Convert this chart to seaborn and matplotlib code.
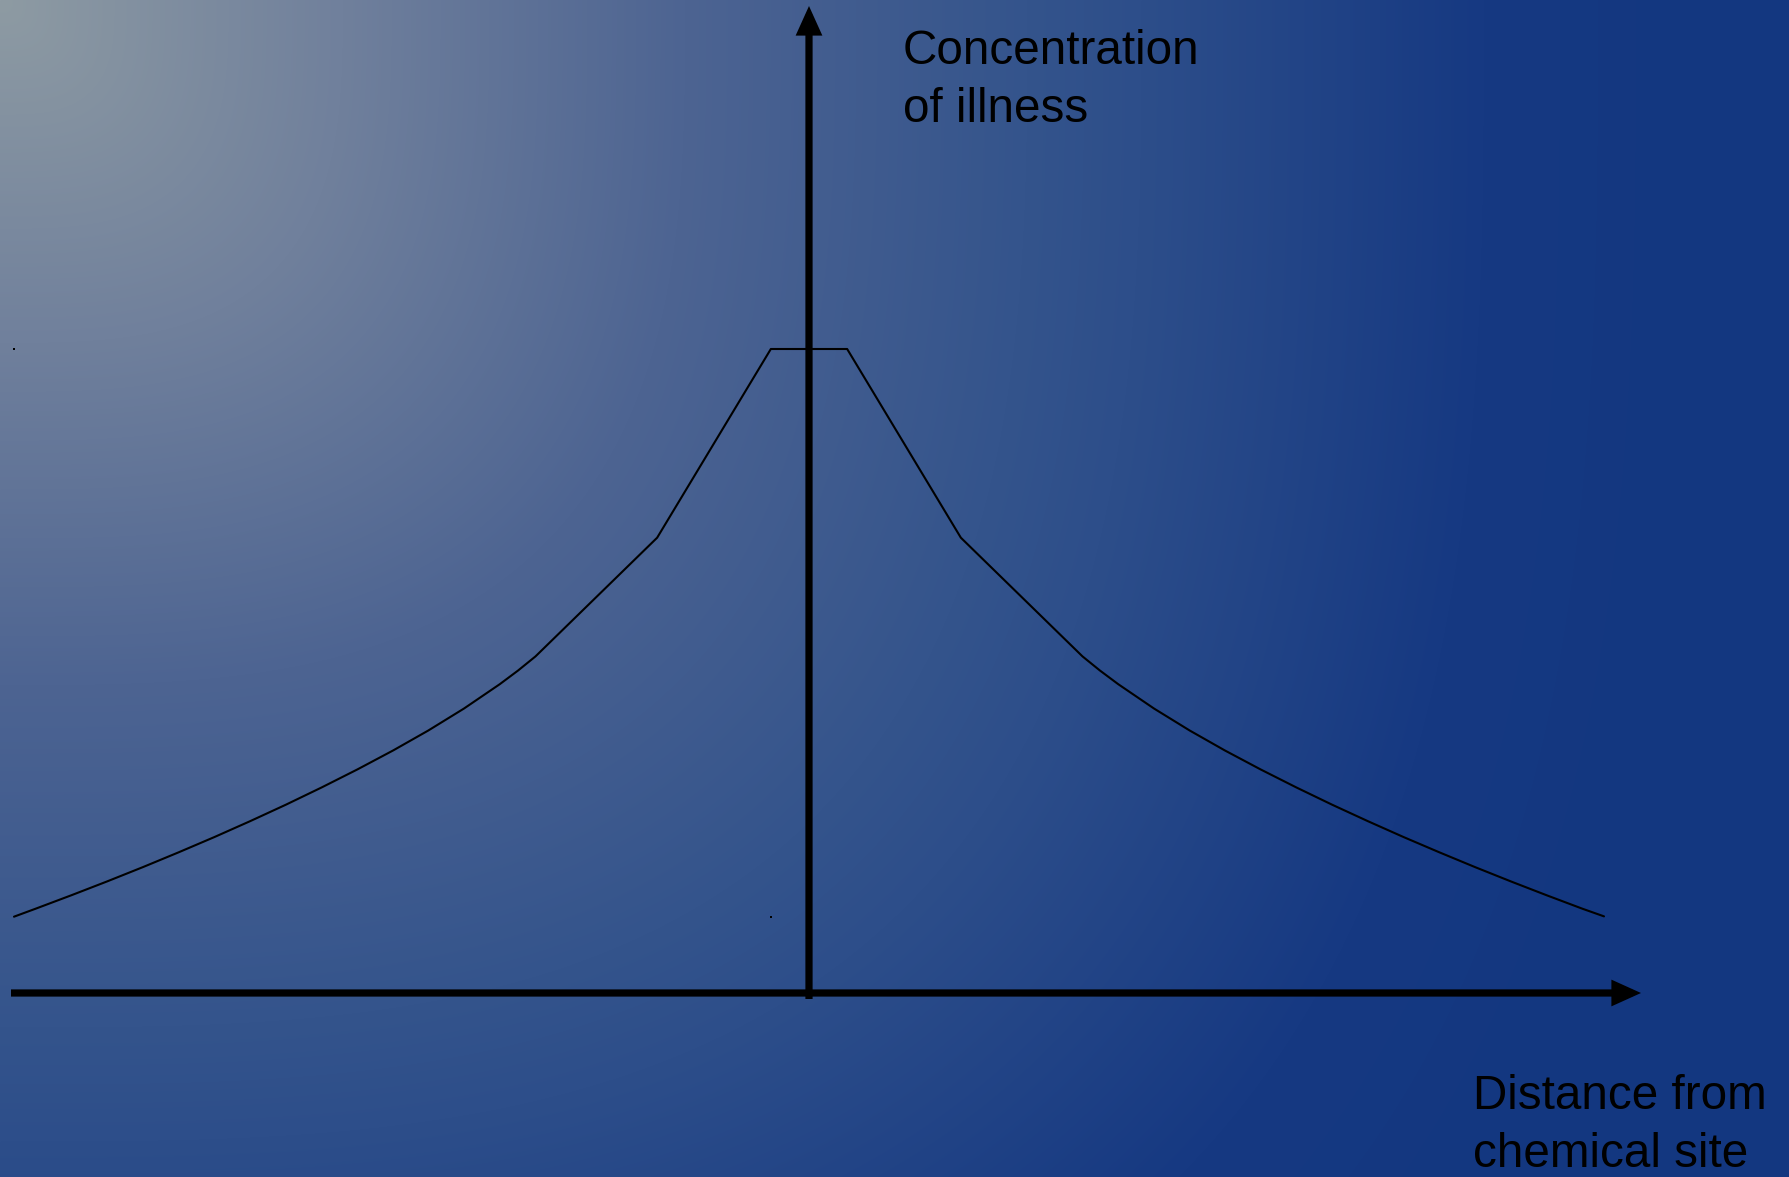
import numpy as np
import pandas as pd
import matplotlib
matplotlib.use("Agg")
import matplotlib.pyplot as plt
import seaborn as sns

# ---- data ----
distance = [-10.0, -9.73, -9.28, -8.83, -8.38, -7.93, -7.48, -7.03, -6.58, -6.13,
            -5.68, -5.23, -4.79, -4.34, -3.89, -3.66, -3.44, -1.91, -0.48,
            0.48, 1.91, 3.44, 3.66, 3.89, 4.34, 4.79, 5.23, 5.68, 6.13,
            6.58, 7.03, 7.48, 7.93, 8.38, 8.83, 9.28, 9.73, 10.0]
concentration = [1.185, 1.308, 1.517, 1.732, 1.954, 2.184, 2.421, 2.668, 2.924, 3.192,
                 3.472, 3.767, 4.075, 4.417, 4.795, 5.007, 5.227, 7.07, 10.0,
                 10.0, 7.07, 5.227, 5.007, 4.795, 4.417, 4.075, 3.767, 3.472, 3.192,
                 2.924, 2.668, 2.421, 2.184, 1.954, 1.732, 1.517, 1.308, 1.19]
stray_x = [-10.0, -0.48]
stray_y = [10.0, 1.18]
y_label = "Concentration\nof illness"
x_label = "Distance from\nchemical site"

df = pd.DataFrame({"distance": distance, "concentration": concentration})

sns.set_theme(style="white")
plt.rcParams['font.family'] = ['Liberation Sans', 'DejaVu Sans']

W, H = 1789, 1177
fig = plt.figure(figsize=(W / 100, H / 100), dpi=100)

# background gradient from the top-left corner (rounded-rectangular contours)
bg = fig.add_axes([0, 0, 1, 1], zorder=0)
yy, xx = np.mgrid[0:H, 0:W].astype(float)
t = (xx ** 3 + yy ** 3) ** (1 / 3) / 1.141
stops = [0, 300, 600, 900, 1000, 1300, 1500, 2500]
rs = [142, 112, 77, 52, 45, 22, 19, 19]
gs = [155, 128, 100, 84, 78, 57, 55, 55]
bs = [163, 156, 146, 140, 138, 130, 128, 128]
img = np.dstack([np.interp(t, stops, rs), np.interp(t, stops, gs), np.interp(t, stops, bs)]) / 255.0
bg.imshow(img, aspect="auto", extent=(0, 1, 0, 1), origin="upper")
bg.set_axis_off()

ax = fig.add_axes([0, 0, 1, 1], zorder=1)
ax.set_facecolor("none")
# pixel mapping: x_px = 809 + 79.5*d ; y_px(from top) = 993 - 64.4*c
ax.set_xlim((0 - 809) / 79.5, (W - 809) / 79.5)
ax.set_ylim((993 - H) / 64.4, 993 / 64.4)
ax.set_axis_off()

sns.lineplot(data=df, x="distance", y="concentration", sort=False, estimator=None,
             color="black", linewidth=1.5, ax=ax, solid_joinstyle="round")
ax.scatter(stray_x, stray_y, s=3, marker="s", color="black", linewidths=0)

# axes arrows
x0 = (11 - 809) / 79.5
x1 = (1641 - 809) / 79.5
y0 = (993 - 999) / 64.4
y1 = (993 - 6) / 64.4
arrow_kw = dict(arrowstyle="-|>,head_length=0.62,head_width=0.28", color="black",
                lw=5.2, shrinkA=0, shrinkB=0, mutation_scale=20, joinstyle="miter",
                capstyle="butt")
ax.annotate("", xy=(x1, 0), xytext=(x0, 0), arrowprops=arrow_kw)
ax.annotate("", xy=(0, y1), xytext=(0, y0), arrowprops=arrow_kw)

ax.text(903 / W, 1 - 122 / H, y_label, transform=fig.transFigure, fontsize=34.3,
        color="black", ha="left", va="baseline", linespacing=1.37, multialignment="left")
ax.text(1473 / W, 1 - 1167 / H, x_label, transform=fig.transFigure, fontsize=34.3,
        color="black", ha="left", va="baseline", linespacing=1.37, multialignment="left")

fig.savefig("out.png", dpi=100)
